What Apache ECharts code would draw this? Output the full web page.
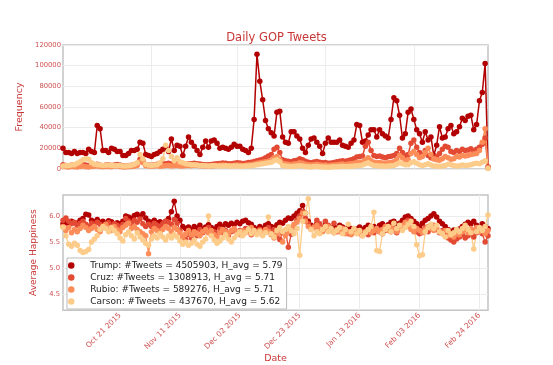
<!DOCTYPE html>
<html>
<head>
<meta charset="utf-8">
<script src="https://cdn.jsdelivr.net/npm/echarts@6/dist/echarts.min.js"></script>
<style>html,body{margin:0;padding:0;background:#fff}#c{width:553px;height:365px}</style>
</head>
<body>
<div id="c"></div>
<script>
const seriesNames = ['Trump', 'Cruz', 'Rubio', 'Carson'];
const seriesColors = ['#b30000', '#e34a33', '#fc8d59', '#fdcc8a'];
const tweetCounts = [4505903, 1308913, 589276, 437670];
const hAvg = [5.79, 5.71, 5.71, 5.62];
const xTickLabels = ['Oct 21 2015', 'Nov 11 2015', 'Dec 02 2015', 'Dec 23 2015', 'Jan 13 2016', 'Feb 03 2016', 'Feb 24 2016'];
const monthGridLabels = ['Nov 01 2015', 'Dec 01 2015', 'Jan 01 2016', 'Feb 01 2016'];
const freqTicks = [0, 20000, 40000, 60000, 80000, 100000, 120000];
const happyTicks = [4.5, 5.0, 5.5, 6.0];

// daily dates, Oct 01 2015 .. Feb 27 2016 (150 days)
const monthNames = ['Jan','Feb','Mar','Apr','May','Jun','Jul','Aug','Sep','Oct','Nov','Dec'];
const dates = [];
for (let i = 0; i < 150; i++) {
  const d = new Date(Date.UTC(2015, 9, 1) + i * 86400000);
  dates.push(monthNames[d.getUTCMonth()] + ' ' + String(d.getUTCDate()).padStart(2, '0') + ' ' + d.getUTCFullYear());
}

const trumpFreq = [
20000,16000,16000,15000,17000,15000,16000,16000,15000,19000,
17000,16000,42000,39000,18000,18000,16000,20000,19000,17000,
17000,13000,13000,15000,18000,18000,19000,26000,25000,14000,
13000,12000,14000,15000,17000,19000,21000,17000,29000,18000,
23000,22000,13000,22000,31000,26000,22000,18000,14000,21000,
27000,21000,27000,28000,25000,20000,21000,20000,19000,21000,
24000,22000,22000,19000,18000,16000,20000,48000,111000,85000,
67000,47000,39000,35000,32000,55000,56000,31000,26000,25000,
36000,36000,32000,29000,20000,16000,23000,29000,30000,26000,
22000,15000,25000,30000,26000,26000,26000,28000,23000,22000,
21000,25000,28000,43000,42000,26000,27000,33000,38000,38000,
31000,38000,34000,32000,30000,48000,69000,66000,52000,30000,
34000,55000,58000,48000,38000,34000,26000,36000,28000,31000,
13000,23000,41000,30000,31000,39000,42000,34000,36000,41000,
49000,47000,51000,52000,38000,43000,66000,74000,102000,2000];

const cruzFreq = [
4000,3500,3200,3800,3400,3100,3600,4200,3800,3300,
3700,4100,4500,3600,3200,3800,4000,3400,3900,4300,
3800,3200,3000,3300,3700,4000,4800,9500,8000,4200,
3800,3600,4200,4500,4000,4800,5200,5600,4800,5000,
5400,4600,4200,4800,5200,5000,5600,5200,4800,4400,
4200,4000,4400,4800,5000,5400,5800,5600,5000,5200,
5600,6000,5800,5400,5600,6200,6600,7200,8000,8800,
9500,11000,12500,14000,19000,21000,16000,9000,8000,7500,
7000,8000,8500,10000,9000,7500,6500,6000,6800,7200,
6500,6000,6200,5500,5800,6400,7000,7600,8000,7400,
8200,9000,10000,11500,12000,12500,22000,26000,18000,13000,
12000,12500,11500,11000,11800,12400,13000,15000,20000,16000,
13000,14000,25000,28000,21000,16000,13500,18000,13000,11000,
10000,12000,15000,19000,22000,21000,17000,16000,18000,17000,
19000,18000,18500,19500,17500,19000,21000,24000,30000,1000];

const rubioFreq = [
2500,2200,2000,2400,2100,1900,2300,2600,2200,2000,
2400,2600,2800,2300,2100,2400,2500,2200,2600,2800,
2400,2000,1900,2100,2400,2700,3500,7000,6000,3200,
2800,2600,2900,3100,2700,3000,3300,3500,3000,3200,
3400,3000,2800,3100,3300,3200,3600,3400,3100,2900,
2800,2700,3000,3200,3400,3600,3800,3700,3300,3400,
3600,3800,3700,3500,3700,4000,4300,4800,5500,6000,
6500,7000,7500,8000,11000,12000,9000,5500,5000,4600,
4400,4800,5200,6000,5500,4600,4000,3800,4200,4500,
4000,3700,3800,3400,3600,3900,4200,4500,4800,4400,
4800,5200,5600,6200,6500,6800,9000,11000,8000,6500,
6000,6200,5800,5600,6000,6400,7000,9000,13000,11000,
8000,9000,15000,17000,14000,11000,12000,16000,20000,14000,
10000,9000,8500,10000,12000,11000,9500,10000,12000,11500,
13000,12500,13000,14000,14500,15000,18000,26000,39000,1500];

const carsonFreq = [
3000,3200,3500,3800,4200,5500,7000,9000,10000,9500,
6000,4500,4000,3800,3500,3600,3800,3400,3200,3500,
3300,3000,2900,3200,3600,4500,6000,14000,10000,4500,
3800,3500,3800,4200,6000,10000,23000,18000,12000,8000,
11000,7000,6000,5000,4500,4200,4000,3800,3500,3300,
3200,3000,3100,3300,3000,2800,3000,3200,2900,2700,
2800,3000,2700,2600,2800,3000,3200,3600,4000,4500,
5000,5500,6000,6500,8000,9000,7000,3500,3000,2600,
2400,2600,2800,3200,3000,2500,2200,2000,2300,2400,
2100,1900,2000,1800,1900,2100,2200,2400,2600,2300,
2500,2700,2900,3200,3500,3800,5000,6000,4500,3500,
3200,3000,2800,2700,3000,3200,3500,4500,6000,5000,
4000,4200,6000,7000,5500,4000,3500,4000,5000,3800,
3000,2800,2600,3000,3500,4500,4000,3500,3000,3200,
3800,3500,3600,4000,5000,5500,5000,6500,8000,500];

const trumpHappy = [
5.85,5.88,5.84,5.90,5.87,5.86,5.92,5.95,6.03,6.02,
5.92,5.89,5.93,5.88,5.90,5.86,5.91,5.89,5.84,5.87,
5.85,5.90,6.00,5.98,5.95,6.01,6.03,5.99,6.04,5.96,
5.90,5.88,5.92,5.87,5.89,5.86,5.90,5.95,6.08,6.28,
6.00,5.92,5.80,5.76,5.79,5.74,5.80,5.77,5.82,5.75,
5.79,5.83,5.78,5.74,5.80,5.84,5.79,5.85,5.82,5.86,
5.83,5.88,5.85,5.90,5.92,5.87,5.84,5.78,5.74,5.80,
5.76,5.82,5.85,5.80,5.78,5.83,5.88,5.86,5.92,5.96,
5.95,6.00,6.05,6.10,6.20,6.05,5.90,5.82,5.78,5.85,
5.80,5.75,5.83,5.78,5.72,5.80,5.76,5.82,5.79,5.74,
5.78,5.76,5.72,5.75,5.79,5.74,5.78,5.82,5.77,5.80,
5.76,5.82,5.85,5.79,5.83,5.88,5.90,5.84,5.86,5.92,
5.98,6.00,5.95,5.90,5.85,5.80,5.86,5.92,5.95,6.00,
6.04,5.98,5.90,5.85,5.80,5.74,5.70,5.73,5.68,5.75,
5.80,5.84,5.88,5.85,5.90,5.82,5.78,5.85,5.80,5.76];

const cruzHappy = [
5.92,5.96,5.90,5.85,5.88,5.82,5.86,5.90,5.84,5.80,
5.86,5.82,5.88,5.84,5.78,5.83,5.87,5.80,5.85,5.82,
5.78,5.84,5.95,5.90,5.86,5.92,5.88,5.94,5.85,5.80,
5.84,5.80,5.86,5.82,5.78,5.85,5.90,5.88,5.84,5.93,
5.86,5.72,5.60,5.55,5.65,5.58,5.70,5.62,5.74,5.68,
5.72,5.78,5.64,5.70,5.66,5.75,5.68,5.72,5.62,5.70,
5.74,5.68,5.72,5.66,5.76,5.70,5.64,5.72,5.68,5.74,
5.66,5.72,5.78,5.70,5.74,5.62,5.55,5.68,5.72,5.40,
5.65,5.78,5.92,6.00,6.08,5.95,5.85,5.76,5.80,5.92,
5.85,5.78,5.90,5.82,5.74,5.86,5.70,5.75,5.68,5.72,
5.66,5.70,5.74,5.68,5.72,5.66,5.70,5.64,5.72,5.68,
5.74,5.70,5.66,5.72,5.78,5.70,5.76,5.68,5.74,5.80,
5.86,5.92,5.78,5.74,5.70,5.66,5.72,5.78,5.70,5.76,
5.82,5.74,5.68,5.72,5.64,5.58,5.54,5.50,5.56,5.60,
5.64,5.58,5.62,5.66,5.60,5.68,5.72,5.66,5.50,5.62];

const rubioHappy = [
5.80,5.72,5.78,5.68,5.74,5.70,5.76,5.82,5.78,5.72,
5.76,5.80,5.74,5.70,5.78,5.84,5.76,5.72,5.80,5.74,
5.70,5.78,5.82,5.86,5.76,5.80,5.74,5.70,5.66,5.62,
5.28,5.70,5.76,5.72,5.68,5.74,5.80,5.76,5.70,5.78,
5.74,5.68,5.60,5.66,5.72,5.64,5.70,5.66,5.62,5.70,
5.74,5.68,5.72,5.64,5.60,5.68,5.74,5.70,5.66,5.72,
5.76,5.70,5.64,5.72,5.68,5.74,5.78,5.70,5.66,5.72,
5.68,5.74,5.70,5.64,5.58,5.66,5.72,5.50,5.62,5.70,
5.78,5.84,5.88,5.95,6.05,5.90,5.80,5.74,5.78,5.82,
5.76,5.70,5.74,5.80,5.72,5.68,5.74,5.70,5.76,5.66,
5.70,5.64,5.68,5.72,5.66,5.62,5.70,5.74,5.68,5.72,
5.76,5.70,5.74,5.80,5.72,5.78,5.74,5.70,5.76,5.82,
5.88,5.80,5.74,5.70,5.76,5.72,5.68,5.74,5.80,5.76,
5.72,5.78,5.70,5.66,5.72,5.62,5.66,5.60,5.68,5.64,
5.70,5.74,5.68,5.76,5.72,5.78,5.70,5.74,5.66,5.72];

const carsonHappy = [
5.78,5.62,5.46,5.42,5.48,5.44,5.34,5.30,5.32,5.36,
5.50,5.56,5.62,5.74,5.80,5.76,5.70,5.78,5.72,5.66,
5.58,5.52,5.64,5.70,5.62,5.56,5.68,5.60,5.54,5.48,
5.44,5.56,5.62,5.58,5.66,5.60,5.54,5.62,5.58,5.64,
5.60,5.52,5.46,5.50,5.44,5.48,5.54,5.46,5.42,5.50,
5.56,6.00,5.62,5.54,5.48,5.52,5.58,5.64,5.56,5.50,
5.58,5.64,5.70,5.62,5.68,5.74,5.66,5.72,5.64,5.70,
5.62,5.68,5.98,5.66,5.60,5.72,5.78,5.70,5.74,5.80,
5.72,5.66,5.76,5.25,5.90,6.05,6.33,5.74,5.62,5.70,
5.66,5.74,5.80,5.70,5.76,5.68,5.72,5.78,5.66,5.74,
5.84,5.70,5.76,5.66,5.72,5.62,5.68,5.74,5.80,6.07,
5.34,5.32,5.66,5.74,5.80,5.70,5.86,5.76,5.82,5.72,
5.78,5.84,5.90,5.80,5.45,5.24,5.26,5.70,5.78,5.84,
5.76,5.82,5.70,5.66,5.60,5.72,5.64,5.68,5.74,5.70,
5.76,5.82,5.74,5.68,5.37,5.70,5.78,5.72,5.80,6.02];

const freqData = [trumpFreq, cruzFreq, rubioFreq, carsonFreq];
const happyData = [trumpHappy, cruzHappy, rubioHappy, carsonHappy];

const FONT = 'DejaVu Sans';
const NAME_COLOR = '#c83737';
const TICK_COLOR = '#cf5252';
const GRID_LINE = { show: true, lineStyle: { color: '#ececec', width: 1 } };

const chart = echarts.init(document.getElementById('c'), null, { renderer: 'canvas' });

const series = [];
for (let s = 0; s < 4; s++) {
  series.push({
    name: seriesNames[s], type: 'line', xAxisIndex: 0, yAxisIndex: 0,
    data: freqData[s], symbol: 'circle', symbolSize: 5.5, showAllSymbol: true,
    lineStyle: { width: 1.5, color: seriesColors[s] },
    itemStyle: { color: seriesColors[s] }, emphasis: { disabled: true }
  });
}
for (let s = 0; s < 4; s++) {
  series.push({
    name: seriesNames[s], type: 'line', xAxisIndex: 1, yAxisIndex: 1,
    data: happyData[s], symbol: 'circle', symbolSize: 5.5, showAllSymbol: true,
    lineStyle: { width: 1.3, color: seriesColors[s] },
    itemStyle: { color: seriesColors[s] }, emphasis: { disabled: true }
  });
}

chart.setOption({
  animation: false,
  backgroundColor: '#fff',
  title: {
    text: 'Daily GOP Tweets', left: 'center', top: 32, padding: 0,
    textStyle: { fontFamily: FONT, fontSize: 11.5, fontWeight: 'normal', color: NAME_COLOR }
  },
  legend: {
    data: seriesNames, orient: 'vertical', left: 67, top: 258,
    backgroundColor: '#fff', borderColor: '#bbb', borderWidth: 1,
    padding: [3, 4, 3, 1], itemGap: 3, itemWidth: 14, itemHeight: 6.5, icon: 'circle',
    textStyle: { fontFamily: FONT, fontSize: 9, color: '#222', padding: [0, 0, 0, 7] },
    formatter: function (name) {
      const i = seriesNames.indexOf(name);
      return name + ': #Tweets = ' + tweetCounts[i] + ', H_avg = ' + hAvg[i].toFixed(2);
    }
  },
  grid: [
    { left: 63, right: 65, top: 45, height: 124, show: true, borderColor: '#c4c4c4', borderWidth: 1.5, backgroundColor: '#fff' },
    { left: 63, right: 65, top: 195, height: 124, show: true, borderColor: '#c4c4c4', borderWidth: 1.5, backgroundColor: '#fff' }
  ],
  xAxis: [
    {
      type: 'category', gridIndex: 0, data: dates, boundaryGap: false,
      axisLine: { show: false }, axisTick: { show: false }, axisLabel: { show: false },
      splitLine: { show: true, lineStyle: { color: '#ececec', width: 1 },
        interval: function (i, v) { return monthGridLabels.indexOf(v) >= 0; } }
    },
    {
      type: 'category', gridIndex: 1, data: dates, boundaryGap: false,
      axisLine: { show: false }, axisTick: { show: false },
      axisLabel: {
        interval: function (i, v) { return xTickLabels.indexOf(v) >= 0; },
        rotate: 45, margin: 4, fontFamily: FONT, fontSize: 7.5, color: TICK_COLOR
      },
      splitLine: { show: true, lineStyle: { color: '#ececec', width: 1 },
        interval: function (i, v) { return xTickLabels.indexOf(v) >= 0; } },
      name: 'Date', nameLocation: 'middle', nameGap: 29,
      nameTextStyle: { fontFamily: FONT, fontSize: 9.5, color: NAME_COLOR }
    }
  ],
  yAxis: [
    {
      type: 'value', gridIndex: 0, min: 0, max: 120000, interval: 20000,
      axisLine: { show: false }, axisTick: { show: false },
      axisLabel: { margin: 2, fontFamily: FONT, fontSize: 6.8, color: TICK_COLOR,
        customValues: freqTicks, formatter: function (v) { return String(v); } },
      splitLine: GRID_LINE,
      name: 'Frequency', nameLocation: 'middle', nameGap: 26,
      nameTextStyle: { fontFamily: FONT, fontSize: 9.5, color: NAME_COLOR }
    },
    {
      type: 'value', gridIndex: 1, min: 4.2, max: 6.4,
      axisLine: { show: false }, axisTick: { show: false, customValues: happyTicks },
      axisLabel: { margin: 3, fontFamily: FONT, fontSize: 6.8, color: TICK_COLOR,
        customValues: happyTicks, formatter: function (v) { return v.toFixed(1); } },
      splitLine: GRID_LINE,
      name: 'Average Happiness', nameLocation: 'middle', nameGap: 13,
      nameTextStyle: { fontFamily: FONT, fontSize: 9, color: NAME_COLOR }
    }
  ],
  series: series
});
</script>
</body>
</html>
